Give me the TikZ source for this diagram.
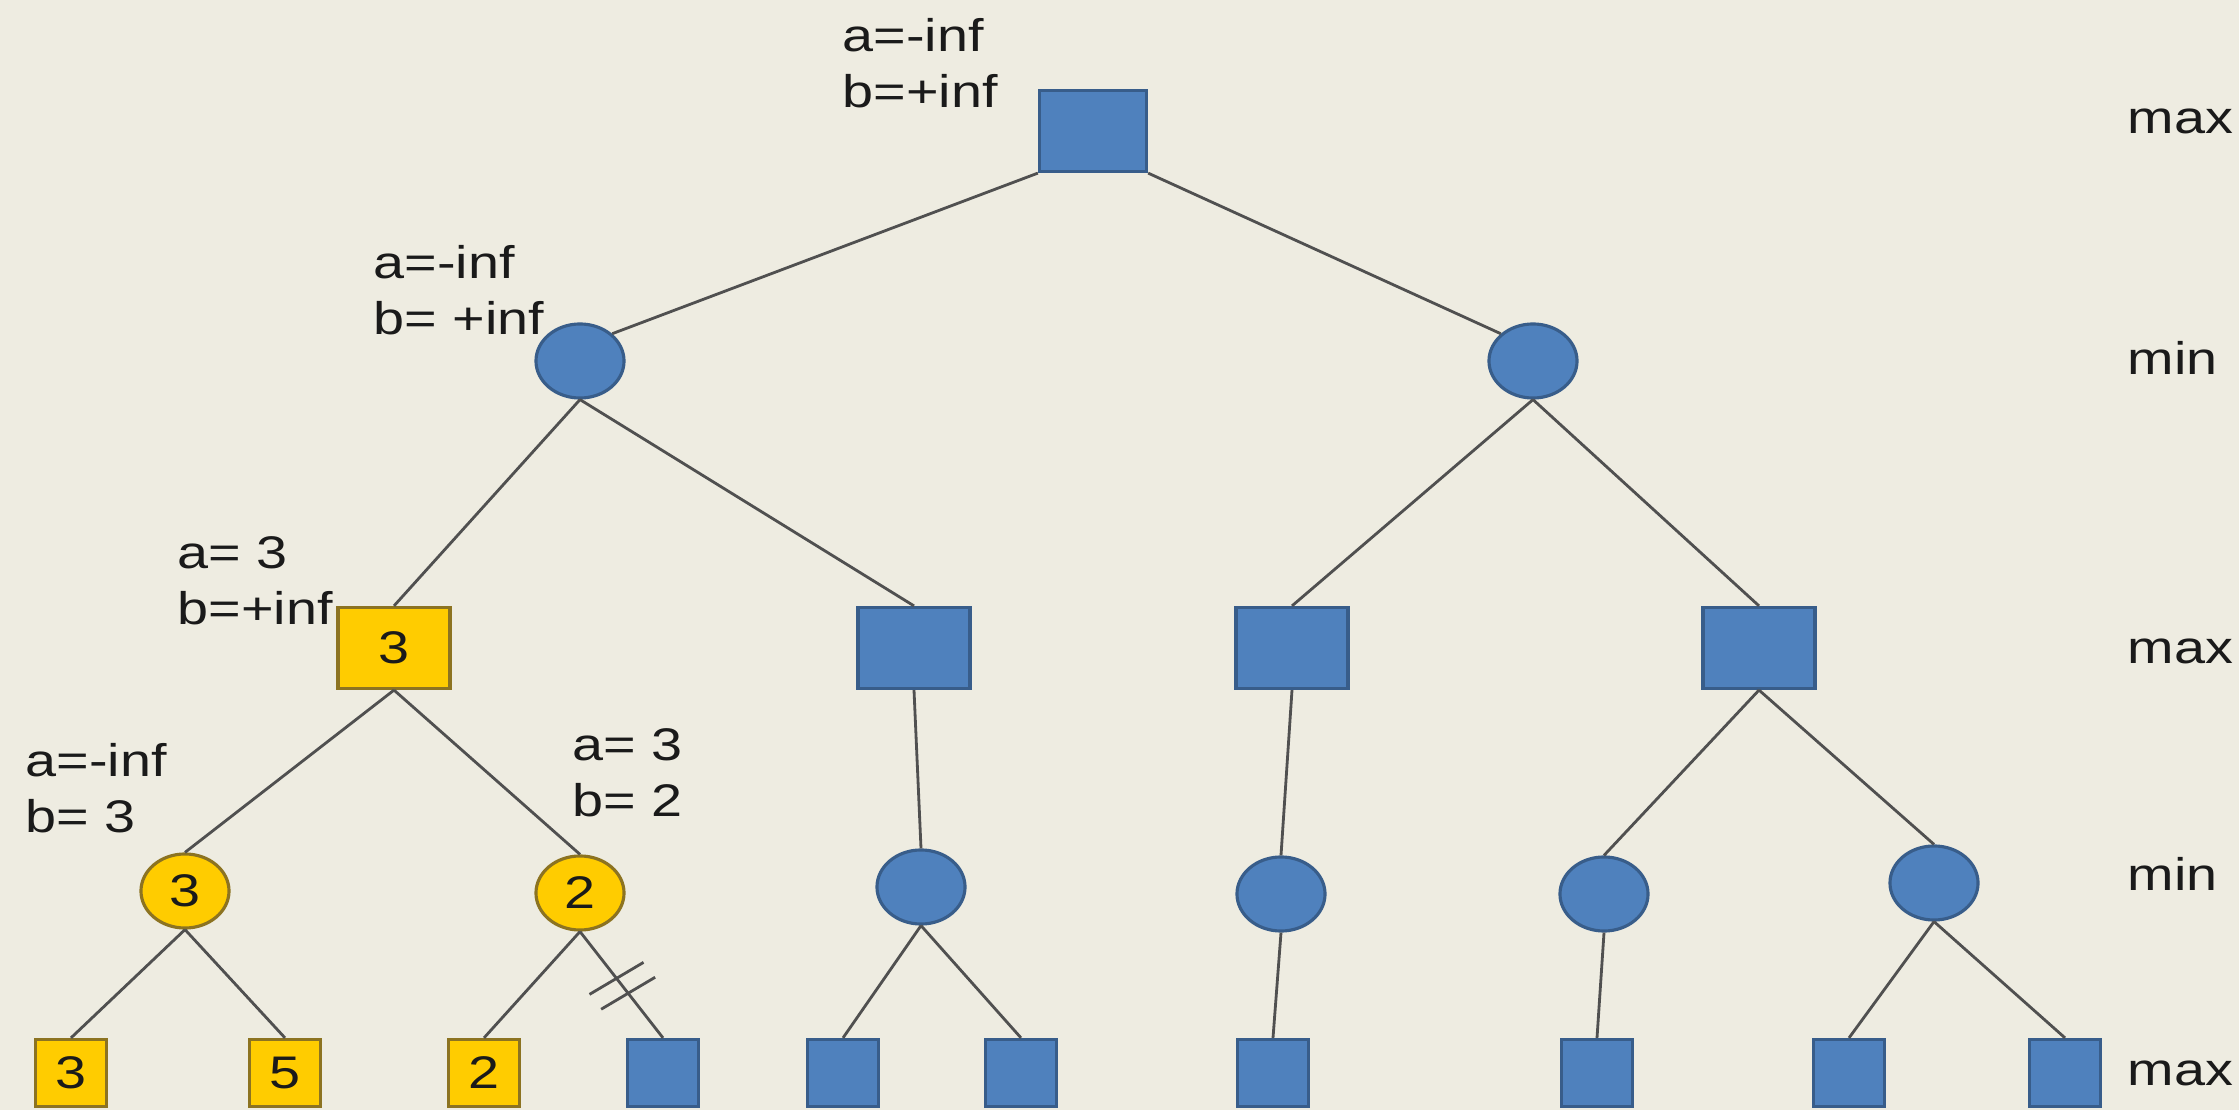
\documentclass[tikz,border=0pt]{standalone}
\usepackage{fontspec}
\setmainfont[FakeStretch=1.22]{Liberation Sans}
\usetikzlibrary{shapes.geometric,calc}
\definecolor{slidebg}{HTML}{EEECE1}
\definecolor{nodeblue}{HTML}{4F81BD}
\definecolor{nodeedge}{HTML}{385D8A}
\definecolor{hitfill}{HTML}{FFCC00}
\definecolor{hitedge}{HTML}{8C7321}
\definecolor{ink}{HTML}{1A1A1A}
\definecolor{wire}{HTML}{505050}
\tikzset{
  treenode/.style={draw=nodeedge,fill=nodeblue,line width=0.9pt,inner sep=0pt,
                   text=ink,font=\fontsize{13}{16}\selectfont},
  maxnode/.style={treenode,rectangle,minimum width=1.12cm,minimum height=0.81cm},
  leafnode/.style={treenode,rectangle,minimum width=0.71cm,minimum height=0.67cm},
  minnode/.style={treenode,ellipse,minimum width=0.88cm,minimum height=0.74cm},
  visited/.style={draw=hitedge,fill=hitfill},
  edge/.style={draw=wire,line width=0.8pt},
  note/.style={anchor=base west,align=left,inner sep=0pt,text=ink,
               font=\fontsize{13}{16}\selectfont},
  levelname/.style={anchor=base west,inner sep=0pt,text=ink,
                    font=\fontsize{13}{16}\selectfont}
}
\begin{document}
\begin{tikzpicture}[x=0.01cm,y=-0.01cm]
  \fill[slidebg] (0,0) rectangle (2239,1110);
  \useasboundingbox (0,0) rectangle (2239,1110);

  % tree, top down
  \node[maxnode,minimum width=1.07cm] (root) at (1093,131) {};
  \node[minnode] (minL) at (580,361) {};
  \node[minnode] (minR) at (1533,361) {};
  \node[maxnode,visited] (maxA) at (394,648) {3};
  \node[maxnode] (maxB) at (914,648) {};
  \node[maxnode] (maxC) at (1292,648) {};
  \node[maxnode] (maxD) at (1759,648) {};
  \node[minnode,visited] (minA) at (185,891) {3};
  \node[minnode,visited] (minB) at (580,893) {2};
  \node[minnode] (minC) at (921,887) {};
  \node[minnode] (minD) at (1281,894) {};
  \node[minnode] (minE) at (1604,894) {};
  \node[minnode] (minF) at (1934,883) {};
  \node[leafnode,visited] (leafA) at (71,1073) {3};
  \node[leafnode,visited] (leafB) at (285,1073) {5};
  \node[leafnode,visited] (leafC) at (484,1073) {2};
  \node[leafnode] (leafD) at (663,1073) {};
  \node[leafnode] (leafE) at (843,1073) {};
  \node[leafnode] (leafF) at (1021,1073) {};
  \node[leafnode] (leafG) at (1273,1073) {};
  \node[leafnode] (leafH) at (1597,1073) {};
  \node[leafnode] (leafI) at (1849,1073) {};
  \node[leafnode] (leafJ) at (2065,1073) {};

  % edges
  \draw[edge] (root.south west) -- (minL.north east);
  \draw[edge] (root.south east) -- (minR.north west);
  \foreach \up/\down in {minL/maxA,minL/maxB,minR/maxC,minR/maxD,
                         maxA/minA,maxA/minB,maxB/minC,maxC/minD,maxD/minE,maxD/minF,
                         minA/leafA,minA/leafB,minB/leafC,minB/leafD,minC/leafE,minC/leafF,
                         minD/leafG,minE/leafH,minF/leafI,minF/leafJ}
    \draw[edge] (\up.south) -- (\down.north);

  % pruned branch
  \path (minB.south) -- (leafD.north) coordinate[pos=0.44] (cutA) coordinate[pos=0.58] (cutB);
  \draw[edge] ($(cutA)+(-27,16)$) -- ($(cutA)+(27,-16)$);
  \draw[edge] ($(cutB)+(-27,16)$) -- ($(cutB)+(27,-16)$);

  % alpha/beta notes (placed by the baseline of their last line)
  \node[note] (noteRoot) at (842,108) {a=-inf\\b=+inf};
  \node[note] (noteL) at (373,335) {a=-inf\\b= +inf};
  \node[note] (noteA) at (177,625) {a= 3\\b=+inf};
  \node[note] (noteMinA) at (25,833) {a=-inf\\b= 3};
  \node[note] (noteMinB) at (572,817) {a= 3\\b= 2};

  % level names
  \foreach \y/\lvl [count=\i] in {134/max,375/min,664/max,890/min,1085/max}
    \node[levelname] (lvl\i) at (2127,\y) {\lvl};
\end{tikzpicture}
\end{document}
